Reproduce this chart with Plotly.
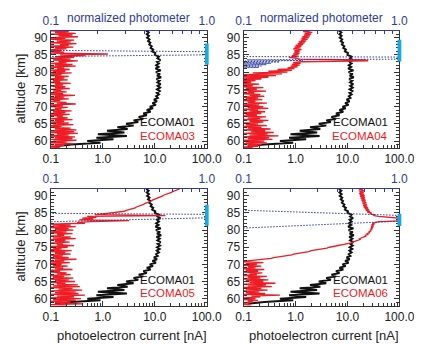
import numpy as np
import plotly.graph_objects as go

# ---------------- data ----------------
# ECOMA01 photoelectron current [nA], altitude 92.0 km down to 58.5 km in 0.5 km steps
ECOMA01 = [6.8, 7.6, 7.0, 7.7, 7.1,
           7.9, 7.4, 8.2, 7.8,
           8.7, 8.3, 9.3, 8.9,
           10.2, 10.0, 12.0, 11.2,
           12.8, 11.0, 12.0, 10.6,
           11.8, 10.3, 13.0, 10.5,
           12.6, 11.0, 13.2, 10.8,
           12.4, 11.2, 12.9, 11.3,
           12.6, 11.0, 12.4, 10.9,
           12.0, 10.6, 11.4, 9.6,
           11.0, 9.0, 10.5, 8.0,
           9.2, 7.0, 8.3, 6.0,
           7.0, 4.9, 6.0, 3.9,
           4.8, 2.8, 3.9, 1.9,
           3.0, 1.2, 2.6, 0.8,
           2.9, 0.75, 1.6, 0.5,
           0.9, 0.25, 0.12]

# second-flight profiles, altitude 92.0 km down to 58.0 km in 0.25 km steps
ECOMA03 = [0.08, 0.22, 0.12, 0.30, 0.09, 0.26, 0.14, 0.33, 0.10,
           0.19, 0.08, 0.28, 0.13, 0.24, 0.09, 0.31, 0.15,
           0.22, 0.08, 0.27, 0.12, 0.20, 0.09, 0.16, 0.11,
           0.18, 0.09, 1.25, 0.15, 0.46, 0.12, 0.28, 0.09,
           0.24, 0.11, 0.33, 0.14, 0.20, 0.08, 0.26, 0.12,
           0.30, 0.09, 0.18, 0.13, 0.23, 0.08, 0.19, 0.11,
           0.25, 0.10, 0.16, 0.08, 0.22, 0.12, 0.18, 0.09,
           0.21, 0.11, 0.15, 0.09, 0.24, 0.12, 0.17, 0.08,
           0.19, 0.12, 0.23, 0.09, 0.16, 0.11, 0.20, 0.08,
           0.17, 0.10, 0.29, 0.12, 0.18, 0.09, 0.22, 0.11,
           0.15, 0.08, 0.20, 0.13, 0.30, 0.10, 0.17, 0.09,
           0.21, 0.12, 0.16, 0.08, 0.25, 0.11, 0.19, 0.09,
           0.23, 0.10, 0.17, 0.13, 0.21, 0.08, 0.26, 0.12,
           0.18, 0.09, 0.22, 0.11, 0.27, 0.10, 0.16, 0.08,
           0.24, 0.12, 0.31, 0.10, 0.28, 0.09, 0.33, 0.13,
           0.22, 0.08, 0.29, 0.12, 0.26, 0.10, 0.31, 0.11,
           0.20, 0.09, 0.27, 0.12, 0.18, 0.08, 0.15, 0.10]

ECOMA04 = [1.9, 1.4, 2.1, 1.5, 2.0, 1.45, 1.9, 1.35, 1.8,
           1.3, 1.7, 1.25, 1.6, 1.15, 1.5, 1.1, 1.4,
           1.0, 1.3, 0.95, 1.25, 0.9, 1.3, 0.95, 1.2,
           0.95, 1.2, 0.9, 1.15, 0.85, 1.1, 0.75, 1.05,
           1.2, 22.0, 25.0, 1.3, 0.9, 1.25, 0.85, 1.2,
           0.8, 1.1, 0.7, 0.95, 0.45, 0.85, 0.3, 0.7,
           0.15, 0.55, 0.09, 0.42, 0.08, 0.3, 0.09, 0.22,
           0.08, 0.17, 0.09, 0.14, 0.08, 0.2, 0.10, 0.15,
           0.09, 0.24, 0.11, 0.18, 0.08, 0.27, 0.12, 0.16,
           0.09, 0.21, 0.13, 0.25, 0.08, 0.19, 0.11, 0.23,
           0.09, 0.17, 0.12, 0.28, 0.08, 0.20, 0.10, 0.24,
           0.12, 0.30, 0.09, 0.19, 0.13, 0.26, 0.08, 0.22,
           0.11, 0.18, 0.09, 0.27, 0.12, 0.21, 0.08, 0.30,
           0.13, 0.24, 0.09, 0.19, 0.11, 0.28, 0.08, 0.22,
           0.12, 0.33, 0.09, 0.26, 0.14, 0.38, 0.10, 0.29,
           0.13, 0.47, 0.09, 0.31, 0.12, 0.36, 0.08, 0.25,
           0.11, 0.28, 0.09, 0.22, 0.12, 0.19, 0.08, 0.15]

ECOMA05 = [30.0, 26.0, 25.0, 22.0, 21.0, 18.5, 17.0, 15.0, 14.2,
           12.8, 12.2, 10.8, 10.2, 9.0, 8.6, 7.6, 7.3,
           6.4, 6.1, 5.3, 5.1, 4.4, 4.2, 3.6, 3.4,
           2.8, 2.6, 2.0, 1.6, 1.0, 0.7, 16.0, 0.5,
           0.75, 0.4, 0.65, 0.35, 3.2, 0.6, 0.32, 0.45,
           0.09, 0.24, 0.11, 0.30, 0.09, 0.22, 0.12, 0.27,
           0.10, 0.20, 0.08, 0.26, 0.13, 0.18, 0.09, 0.24,
           0.11, 0.30, 0.09, 0.19, 0.12, 0.23, 0.08, 0.17,
           0.13, 0.28, 0.09, 0.21, 0.11, 0.16, 0.08, 0.25,
           0.10, 0.19, 0.12, 0.24, 0.08, 0.17, 0.11, 0.22,
           0.09, 0.31, 0.12, 0.18, 0.08, 0.23, 0.10, 0.16,
           0.11, 0.21, 0.09, 0.17, 0.12, 0.26, 0.08, 0.15,
           0.10, 0.20, 0.13, 0.24, 0.09, 0.18, 0.11, 0.27,
           0.09, 0.22, 0.12, 0.29, 0.10, 0.19, 0.13, 0.33,
           0.11, 0.36, 0.09, 0.26, 0.14, 0.40, 0.10, 0.30,
           0.12, 0.34, 0.09, 0.45, 0.13, 0.28, 0.10, 0.38,
           0.11, 0.30, 0.09, 0.24, 0.12, 0.40, 0.08, 0.20]

ECOMA06 = [20.0, 16.5, 21.0, 17.0, 20.5, 16.8, 21.0, 17.2, 21.5,
           17.5, 21.5, 18.0, 22.0, 18.5, 22.5, 19.0, 23.0,
           19.5, 23.5, 20.0, 24.0, 20.5, 25.0, 21.5, 26.0,
           22.5, 27.0, 24.0, 29.0, 27.0, 33.0, 32.0, 40.0,
           60.0, 150.0, 150.0, 150.0, 150.0, 40.0, 32.0, 30.0,
           33.0, 29.0, 32.0, 28.5, 31.0, 28.0, 30.0, 27.0,
           28.5, 25.5, 27.0, 24.0, 25.0, 22.0, 22.5, 20.0,
           19.5, 17.0, 17.5, 15.0, 14.5, 12.5, 11.8, 9.5,
           8.4, 6.6, 5.8, 4.5, 4.0, 3.0, 2.7, 2.0,
           1.8, 1.35, 1.25, 0.92, 0.85, 0.6, 0.55, 0.38,
           0.34, 0.22, 0.19, 0.13, 0.08, 0.24, 0.11, 0.18,
           0.09, 0.22, 0.12, 0.17, 0.08, 0.25, 0.11, 0.19,
           0.10, 0.23, 0.13, 0.18, 0.09, 0.28, 0.12, 0.21,
           0.09, 0.30, 0.11, 0.24, 0.13, 0.41, 0.10, 0.27,
           0.12, 0.35, 0.09, 0.22, 0.11, 0.29, 0.08, 0.20,
           0.11, 0.26, 0.09, 0.50, 0.14, 0.21, 0.10, 0.17,
           0.09, 0.19, 0.12, 0.15, 0.08, 0.13, 0.10, 0.14]

# normalized photometer profiles (altitude km, normalized signal)
PHOT1_ALT = [92.0, 86.5, 86.3, 85.9, 85.0, 84.6, 84.4, 58.0]
PHOT1_VAL = [0.05, 0.05, 0.1, 1.0, 1.0, 0.1, 0.05, 0.05]
PHOT2_ALT = [92.0, 84.7, 84.5, 84.35, 83.75, 83.55, 83.35, 83.15, 82.95, 82.75,
             82.55, 82.35, 82.15, 81.95, 81.75, 81.55, 81.35, 81.15, 58.0]
PHOT2_VAL = [0.05, 0.05, 0.1, 1.0, 1.0, 0.105, 0.24, 0.09, 0.17, 0.09,
             0.15, 0.09, 0.14, 0.09, 0.13, 0.09, 0.125, 0.08, 0.05]
PHOT3_ALT = [92.0, 85.1, 84.9, 84.6, 83.6, 82.3, 82.1, 58.0]
PHOT3_VAL = [0.05, 0.05, 0.1, 1.0, 1.0, 0.1, 0.05, 0.05]
PHOT4_ALT = [92.0, 86.0, 85.8, 84.3, 82.6, 80.6, 80.4, 58.0]
PHOT4_VAL = [0.05, 0.05, 0.1, 1.0, 1.0, 0.1, 0.05, 0.05]

# NLC layer altitude range (bottom, top) km
NLC_LAYER = [(82.1, 88.3), (83.1, 89.4), (81.3, 87.4), (81.2, 84.8)]

SECOND_NAMES = ["ECOMA03", "ECOMA04", "ECOMA05", "ECOMA06"]
SECOND_DATA = [ECOMA03, ECOMA04, ECOMA05, ECOMA06]
PHOT_ALTS = [PHOT1_ALT, PHOT2_ALT, PHOT3_ALT, PHOT4_ALT]
PHOT_VALS = [PHOT1_VAL, PHOT2_VAL, PHOT3_VAL, PHOT4_VAL]

X_TICKS = [0.1, 1, 10, 100]
X_TICKTEXT = ["0.1", "1.0", "10.0", "100.0"]
TOP_TICKS = [0.1, 1.0]
TOP_TICKTEXT = ["0.1", "1.0"]

# ---------------- style ----------------
OFF = 8                      # page body margin of the html page
W, H = 422 - OFF, 344 - OFF  # visible figure area
FONT = "Liberation Sans, Arial, sans-serif"
RED = "#ee1c24"
BLACK = "#111111"
BLUE = "#2f3c9c"
CYAN = "#17a9e1"
FRAME = "#333333"

# panel frames in window pixels: (left, right, top, bottom)
PANELS = [(45, 210, 30.7, 148), (249, 414, 30.7, 148),
          (45, 210, 189, 305.5), (249, 414, 189, 305.5)]


def ax_id(letter, n):
    return letter if n == 1 else f"{letter}{n}"


def px(x):
    return (x - OFF) / W


def py(y):
    return 1 - (y - OFF) / H


alt_black = np.round(92.0 - 0.5 * np.arange(len(ECOMA01)), 2)

fig = go.Figure()
layout = dict(width=W, height=H, margin=dict(l=0, r=0, t=0, b=0),
              paper_bgcolor="white", plot_bgcolor="white",
              showlegend=False, font=dict(family=FONT, size=12, color="#222"))

minor_bottom = [v * m for m in (0.1, 1, 10) for v in range(2, 10)]
minor_top = [v * 0.1 for v in range(2, 10)]
annotations = []
shapes = []

for i, (l, r, t, b) in enumerate(PANELS):
    k = i + 1
    xb, xt, yy = ax_id("x", 2 * k - 1), ax_id("x", 2 * k), ax_id("y", k)
    xdom = [px(l), px(r)]
    ydom = [py(b), py(t)]
    layout[xb.replace("x", "xaxis")] = dict(
        type="log", domain=xdom, anchor=yy, range=[-1, 2],
        tickmode="array", tickvals=X_TICKS, ticktext=X_TICKTEXT,
        ticks="inside", ticklen=5, tickcolor=FRAME, showline=True,
        linecolor=FRAME, linewidth=1, showgrid=False, zeroline=False,
        tickfont=dict(size=12, color="#222"),
        minor=dict(ticks="inside", ticklen=3, tickcolor=FRAME,
                   tickmode="array", tickvals=minor_bottom, showgrid=False))
    layout[xt.replace("x", "xaxis")] = dict(
        type="log", overlaying=xb, side="top", anchor=yy,
        range=[-1, 0], tickmode="array", tickvals=TOP_TICKS,
        ticktext=TOP_TICKTEXT, ticks="inside", ticklen=5, tickcolor=BLUE,
        showline=True, linecolor=BLUE, linewidth=1, showgrid=False,
        zeroline=False, tickfont=dict(size=12, color=BLUE),
        minor=dict(ticks="inside", ticklen=3, tickcolor=BLUE,
                   tickmode="array", tickvals=minor_top, showgrid=False))
    layout[yy.replace("y", "yaxis")] = dict(
        domain=ydom, anchor=xb, range=[58, 92], tick0=60, dtick=5,
        ticks="inside", ticklen=5, tickcolor=FRAME, showline=True,
        linecolor=FRAME, linewidth=1, mirror="ticks", showgrid=False,
        zeroline=False, tickfont=dict(size=12, color="#222"),
        minor=dict(ticks="inside", ticklen=3, dtick=1, tickcolor=FRAME,
                   showgrid=False))

    # ECOMA01 reference profile
    fig.add_trace(go.Scatter(x=ECOMA01, y=alt_black, mode="lines",
                             line=dict(color=BLACK, width=2),
                             xaxis=xb, yaxis=yy))
    vals = SECOND_DATA[i]
    alt_red = np.round(92.0 - 0.25 * np.arange(len(vals)), 2)
    fig.add_trace(go.Scatter(x=vals, y=alt_red, mode="lines",
                             line=dict(color=RED, width=1.3),
                             xaxis=xb, yaxis=yy))
    fig.add_trace(go.Scatter(x=PHOT_VALS[i], y=PHOT_ALTS[i], mode="lines",
                             line=dict(color=BLUE, width=1, dash="1.5px,1.5px"),
                             xaxis=xt, yaxis=yy))

    lo, hi = NLC_LAYER[i]
    shapes.append(dict(type="rect", xref=f"{xb} domain", yref=yy,
                       x0=1 - 2 / (r - l), x1=1 + 2 / (r - l), y0=lo, y1=hi,
                       fillcolor=CYAN, line=dict(width=0), layer="above"))

    xr = 1 - 10 / (r - l)
    annotations.append(dict(text="ECOMA01", xref=f"{xb} domain", yref=f"{yy} domain",
                            x=xr, y=26 / (b - t), xanchor="right", yanchor="middle",
                            showarrow=False, font=dict(size=11.5, color=BLACK)))
    annotations.append(dict(text=SECOND_NAMES[i], xref=f"{xb} domain", yref=f"{yy} domain",
                            x=xr, y=12.5 / (b - t), xanchor="right", yanchor="middle",
                            showarrow=False, font=dict(size=11.5, color=RED)))
    cx = (l + r) / 2
    if i < 2:
        annotations.append(dict(text="normalized photometer", xref="paper", yref="paper",
                                x=px(cx), y=py(8.5), xanchor="center", yanchor="top",
                                showarrow=False, font=dict(size=12, color=BLUE)))
    else:
        annotations.append(dict(text="photoelectron current [nA]", xref="paper", yref="paper",
                                x=px(cx + 3), y=py(335), xanchor="center", yanchor="middle",
                                showarrow=False, font=dict(size=13, color="#222")))
    if i % 2 == 0:
        annotations.append(dict(text="altitude [km]", xref="paper", yref="paper",
                                x=px(12.5), y=py((t + b) / 2 - 1), textangle=-90,
                                xanchor="center", yanchor="middle",
                                showarrow=False, font=dict(size=13, color="#222")))

layout["annotations"] = annotations
layout["shapes"] = shapes
fig.update_layout(**layout)
fig.write_html("out.html")
